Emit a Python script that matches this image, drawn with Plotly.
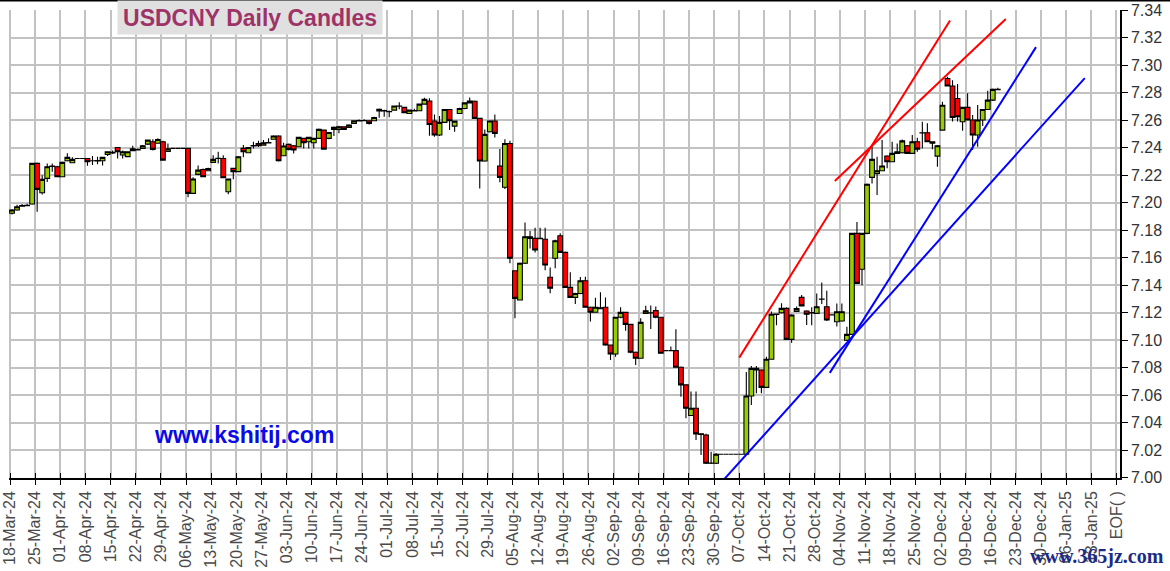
import plotly.graph_objects as go

# ---------------- data (trading-day index 0 = 18-Mar-24) ----------------
opens = [7.1923, 7.1947, 7.1975, 7.1979, 7.1991, 7.2286, 7.2073, 7.2177, 7.2264, 7.2262,
         7.2189, 7.2305, 7.2291, 7.2322, 7.2322, 7.2322, 7.2305, 7.2303, 7.2305, 7.2351,
         7.2362, 7.2402, 7.2347, 7.2335, 7.2378, 7.2383, 7.2395, 7.2426, 7.2443, 7.2432,
         7.2443, 7.2373, 7.2395, 7.2395, 7.2395, 7.2395, 7.2068, 7.2206, 7.2242, 7.2232,
         7.2293, 7.2321, 7.2322, 7.2080, 7.2250, 7.2226, 7.2395, 7.2363, 7.2413, 7.2431,
         7.2419, 7.2435, 7.2461, 7.2485, 7.2342, 7.2424, 7.2414, 7.2407, 7.2468, 7.2443,
         7.2436, 7.2468, 7.2528, 7.2468, 7.2533, 7.2533, 7.2552, 7.2548, 7.2577, 7.2595,
         7.2596, 7.2596, 7.2596, 7.2667, 7.2668, 7.2663, 7.2673, 7.2702, 7.2693, 7.2649,
         7.2668, 7.2669, 7.2717, 7.2739, 7.2594, 7.2492, 7.2584, 7.2678, 7.2557, 7.2649,
         7.2685, 7.2726, 7.2738, 7.2613, 7.2303, 7.2516, 7.2594, 7.2266, 7.2112, 7.2431,
         7.1506, 7.1293, 7.1560, 7.1753, 7.1741, 7.1738, 7.1734, 7.1458, 7.1596, 7.1760,
         7.1639, 7.1385, 7.1312, 7.1340, 7.1433, 7.1240, 7.1204, 7.1236, 7.1240, 7.0966,
         7.0900, 7.1167, 7.1203, 7.1116, 7.0913, 7.0869, 7.1196, 7.1198, 7.1216, 7.1167,
         7.0925, 7.0925, 7.0925, 7.0804, 7.0676, 7.0453, 7.0506, 7.0320, 7.0312, 7.0106,
         7.0106, 7.0172, 7.0172, 7.0172, 7.0172, 7.0172, 7.0172, 7.0595, 7.0796, 7.0784,
         7.0658, 7.0862, 7.1190, 7.1200, 7.1232, 7.1007, 7.1210, 7.1312, 7.1213, 7.1198,
         7.1196, 7.1300, 7.1244, 7.1184, 7.1135, 7.1140, 7.1000, 7.1043, 7.1777, 7.1516,
         7.1777, 7.2184, 7.2213, 7.2233, 7.2340, 7.2298, 7.2359, 7.2363, 7.2414, 7.2359,
         7.2443, 7.2507, 7.2509, 7.2443, 7.2339, 7.2528, 7.2903, 7.2848, 7.2758, 7.2589,
         7.2693, 7.2601, 7.2492, 7.2601, 7.2678, 7.2746, 7.2822]
highs = [7.1955, 7.1985, 7.1990, 7.1992, 7.2290, 7.2292, 7.2200, 7.2286, 7.2285, 7.2268,
         7.2300, 7.2359, 7.2330, 7.2325, 7.2325, 7.2326, 7.2340, 7.2335, 7.2335, 7.2375,
         7.2380, 7.2405, 7.2380, 7.2375, 7.2415, 7.2395, 7.2420, 7.2460, 7.2462, 7.2468,
         7.2450, 7.2430, 7.2397, 7.2397, 7.2397, 7.2398, 7.2185, 7.2270, 7.2248, 7.2255,
         7.2345, 7.2370, 7.2345, 7.2175, 7.2255, 7.2340, 7.2420, 7.2405, 7.2443, 7.2450,
         7.2456, 7.2468, 7.2490, 7.2490, 7.2436, 7.2430, 7.2420, 7.2480, 7.2472, 7.2480,
         7.2472, 7.2540, 7.2532, 7.2515, 7.2555, 7.2560, 7.2556, 7.2570, 7.2600, 7.2605,
         7.2606, 7.2600, 7.2625, 7.2685, 7.2675, 7.2670, 7.2706, 7.2730, 7.2697, 7.2676,
         7.2684, 7.2720, 7.2764, 7.2760, 7.2641, 7.2630, 7.2680, 7.2682, 7.2597, 7.2690,
         7.2730, 7.2765, 7.2744, 7.2618, 7.2533, 7.2600, 7.2642, 7.2390, 7.2462, 7.2450,
         7.1510, 7.1565, 7.1857, 7.1795, 7.1818, 7.1818, 7.1818, 7.1530, 7.1730, 7.1778,
         7.1645, 7.1494, 7.1345, 7.1460, 7.1462, 7.1245, 7.1310, 7.1350, 7.1312, 7.0970,
         7.1170, 7.1240, 7.1208, 7.1120, 7.0918, 7.1160, 7.1252, 7.1253, 7.1245, 7.1172,
         7.0930, 7.0955, 7.1080, 7.0810, 7.0680, 7.0627, 7.0627, 7.0325, 7.0320, 7.0190,
         7.0180, 7.0174, 7.0174, 7.0174, 7.0174, 7.0174, 7.0770, 7.0813, 7.0813, 7.0790,
         7.0880, 7.1210, 7.1195, 7.1270, 7.1240, 7.1190, 7.1245, 7.1330, 7.1218, 7.1240,
         7.1341, 7.1421, 7.1360, 7.1190, 7.1268, 7.1268, 7.1099, 7.1780, 7.1860, 7.1780,
         7.2140, 7.2407, 7.2335, 7.2456, 7.2345, 7.2443, 7.2431, 7.2460, 7.2420, 7.2492,
         7.2472, 7.2589, 7.2577, 7.2446, 7.2419, 7.2734, 7.2916, 7.2890, 7.2863, 7.2697,
         7.2795, 7.2637, 7.2710, 7.2680, 7.2814, 7.2831, 7.2836]
lows = [7.1915, 7.1942, 7.1972, 7.1975, 7.1985, 7.1935, 7.2060, 7.2150, 7.2225, 7.2185,
        7.2185, 7.2300, 7.2288, 7.2320, 7.2320, 7.2269, 7.2275, 7.2280, 7.2270, 7.2340,
        7.2355, 7.2322, 7.2322, 7.2330, 7.2375, 7.2380, 7.2390, 7.2420, 7.2380, 7.2428,
        7.2305, 7.2368, 7.2393, 7.2393, 7.2393, 7.2040, 7.2065, 7.2200, 7.2185, 7.2228,
        7.2290, 7.2285, 7.2180, 7.2062, 7.2170, 7.2222, 7.2330, 7.2360, 7.2395, 7.2405,
        7.2416, 7.2432, 7.2458, 7.2300, 7.2338, 7.2380, 7.2358, 7.2404, 7.2395, 7.2395,
        7.2395, 7.2465, 7.2385, 7.2462, 7.2485, 7.2505, 7.2530, 7.2545, 7.2575, 7.2592,
        7.2593, 7.2568, 7.2592, 7.2618, 7.2625, 7.2622, 7.2670, 7.2680, 7.2650, 7.2645,
        7.2665, 7.2665, 7.2712, 7.2487, 7.2479, 7.2485, 7.2580, 7.2528, 7.2516, 7.2645,
        7.2680, 7.2722, 7.2608, 7.2104, 7.2298, 7.2510, 7.2475, 7.2148, 7.2100, 7.1560,
        7.1160, 7.1290, 7.1555, 7.1668, 7.1638, 7.1735, 7.1510, 7.1342, 7.1523, 7.1635,
        7.1380, 7.1310, 7.1264, 7.1335, 7.1236, 7.1136, 7.1200, 7.1225, 7.0960, 7.0857,
        7.0880, 7.1160, 7.1070, 7.0905, 7.0821, 7.0865, 7.1192, 7.1083, 7.1160, 7.0902,
        7.0920, 7.0920, 7.0800, 7.0590, 7.0434, 7.0450, 7.0276, 7.0167, 7.0100, 7.0100,
        7.0100, 7.0170, 7.0170, 7.0170, 7.0170, 7.0170, 7.0170, 7.0530, 7.0615, 7.0615,
        7.0655, 7.0858, 7.1110, 7.1195, 7.1005, 7.0983, 7.1205, 7.1245, 7.1111, 7.1110,
        7.1192, 7.1264, 7.1140, 7.1180, 7.1100, 7.1135, 7.0995, 7.1040, 7.1410, 7.1400,
        7.1770, 7.2140, 7.2056, 7.2228, 7.2250, 7.2295, 7.2355, 7.2358, 7.2355, 7.2355,
        7.2370, 7.2395, 7.2440, 7.2388, 7.2262, 7.2525, 7.2845, 7.2590, 7.2590, 7.2523,
        7.2600, 7.2383, 7.2407, 7.2557, 7.2675, 7.2740, 7.2820]
closes = [7.1947, 7.1971, 7.1979, 7.1981, 7.2286, 7.2097, 7.2170, 7.2262, 7.2267, 7.2189,
          7.2293, 7.2330, 7.2315, 7.2322, 7.2322, 7.2298, 7.2305, 7.2306, 7.2330, 7.2371,
          7.2366, 7.2371, 7.2371, 7.2371, 7.2392, 7.2387, 7.2414, 7.2455, 7.2388, 7.2460,
          7.2310, 7.2392, 7.2395, 7.2395, 7.2395, 7.2068, 7.2172, 7.2237, 7.2189, 7.2249,
          7.2315, 7.2323, 7.2182, 7.2172, 7.2226, 7.2334, 7.2371, 7.2402, 7.2415, 7.2414,
          7.2436, 7.2437, 7.2485, 7.2305, 7.2412, 7.2388, 7.2383, 7.2475, 7.2436, 7.2475,
          7.2468, 7.2533, 7.2390, 7.2511, 7.2548, 7.2552, 7.2533, 7.2565, 7.2596, 7.2597,
          7.2597, 7.2577, 7.2620, 7.2679, 7.2670, 7.2662, 7.2703, 7.2703, 7.2654, 7.2673,
          7.2670, 7.2717, 7.2751, 7.2569, 7.2492, 7.2584, 7.2678, 7.2596, 7.2593, 7.2685,
          7.2726, 7.2740, 7.2613, 7.2303, 7.2497, 7.2594, 7.2504, 7.2184, 7.2431, 7.1596,
          7.1305, 7.1560, 7.1753, 7.1741, 7.1656, 7.1742, 7.1547, 7.1378, 7.1724, 7.1639,
          7.1385, 7.1312, 7.1340, 7.1433, 7.1240, 7.1204, 7.1240, 7.1230, 7.0966, 7.0900,
          7.1167, 7.1203, 7.1116, 7.0913, 7.0869, 7.1130, 7.1214, 7.1200, 7.1167, 7.0906,
          7.0925, 7.0925, 7.0804, 7.0676, 7.0506, 7.0506, 7.0320, 7.0315, 7.0106, 7.0108,
          7.0172, 7.0172, 7.0172, 7.0172, 7.0172, 7.0172, 7.0595, 7.0796, 7.0784, 7.0658,
          7.0862, 7.1189, 7.1188, 7.1232, 7.1007, 7.1184, 7.1230, 7.1250, 7.1189, 7.1201,
          7.1244, 7.1298, 7.1147, 7.1186, 7.1208, 7.1208, 7.1043, 7.1777, 7.1414, 7.1777,
          7.2134, 7.2315, 7.2233, 7.2267, 7.2298, 7.2359, 7.2371, 7.2450, 7.2359, 7.2443,
          7.2390, 7.2509, 7.2443, 7.2432, 7.2414, 7.2709, 7.2848, 7.2620, 7.2625, 7.2693,
          7.2601, 7.2492, 7.2601, 7.2678, 7.2746, 7.2824, 7.2825]
days = list(range(len(closes)))

week_labels = ["18-Mar-24", "25-Mar-24", "01-Apr-24", "08-Apr-24", "15-Apr-24", "22-Apr-24",
               "29-Apr-24", "06-May-24", "13-May-24", "20-May-24", "27-May-24", "03-Jun-24",
               "10-Jun-24", "17-Jun-24", "24-Jun-24", "01-Jul-24", "08-Jul-24", "15-Jul-24",
               "22-Jul-24", "29-Jul-24", "05-Aug-24", "12-Aug-24", "19-Aug-24", "26-Aug-24",
               "02-Sep-24", "09-Sep-24", "16-Sep-24", "23-Sep-24", "30-Sep-24", "07-Oct-24",
               "14-Oct-24", "21-Oct-24", "28-Oct-24", "04-Nov-24", "11-Nov-24", "18-Nov-24",
               "25-Nov-24", "02-Dec-24", "09-Dec-24", "16-Dec-24", "23-Dec-24", "30-Dec-24",
               "06-Jan-25", "13-Jan-25", "EOF( )"]
price_ticks = [7.00, 7.02, 7.04, 7.06, 7.08, 7.10, 7.12, 7.14, 7.16, 7.18,
               7.20, 7.22, 7.24, 7.26, 7.28, 7.30, 7.32, 7.34]

# hand-drawn trend lines: [start, end] in (trading-day index, price)
red_line_a_x = [144.6, 186.5]
red_line_a_y = [7.0874, 7.3325]
red_line_b_x = [163.6, 197.6]
red_line_b_y = [7.2158, 7.3335]
blue_line_a_x = [141.6, 213.3]
blue_line_a_y = [6.9990, 7.2906]
blue_line_b_x = [162.6, 203.6]
blue_line_b_y = [7.0763, 7.3131]

# ---------------- figure ----------------
tick_pos = [5 * k - 0.4 for k in range(len(week_labels))]
font_family = "Arial, Liberation Sans, sans-serif"

fig = go.Figure()
fig.add_trace(go.Candlestick(
    x=days, open=opens, high=highs, low=lows, close=closes,
    increasing=dict(fillcolor="#99cc00", line=dict(color="black", width=1.1)),
    decreasing=dict(fillcolor="#ff0000", line=dict(color="black", width=1.1)),
    whiskerwidth=0, showlegend=False, hoverinfo="skip"))

for lx, ly, col in [(red_line_a_x, red_line_a_y, "#ff0000"), (red_line_b_x, red_line_b_y, "#ff0000"),
                    (blue_line_a_x, blue_line_a_y, "#0000ff"), (blue_line_b_x, blue_line_b_y, "#0000ff")]:
    fig.add_trace(go.Scatter(x=lx, y=ly, mode="lines", line=dict(color=col, width=2),
                             showlegend=False, hoverinfo="skip", cliponaxis=False))

fig.update_layout(
    width=1170, height=571,
    margin=dict(l=9, r=50, t=10, b=93, autoexpand=False),
    paper_bgcolor="white", plot_bgcolor="white",
    showlegend=False, boxgap=0.06, boxgroupgap=0,
    xaxis=dict(range=[-0.6, 220.3], tickvals=tick_pos, ticktext=week_labels, tickangle=-90,
               showgrid=True, gridcolor="#c2c2c2", gridwidth=1.6, zeroline=False,
               ticks="outside", ticklen=5, tickcolor="black", tickwidth=1,
               showline=True, linecolor="black", linewidth=1.5, automargin=False,
               tickfont=dict(family=font_family, size=16, color="#4a4a4a"),
               rangeslider=dict(visible=False), fixedrange=True),
    xaxis2=dict(range=[-0.6, 220.3], tickvals=tick_pos, overlaying="x", anchor="y",
                side="bottom", showticklabels=False, showgrid=False, zeroline=False,
                ticks="inside", ticklen=5, tickcolor="black", tickwidth=1, automargin=False),
    yaxis=dict(range=[6.9999, 7.3401], side="right", tickvals=price_ticks, tickformat=".2f",
               showgrid=True, gridcolor="#c2c2c2", gridwidth=1.6, zeroline=False,
               ticks="outside", ticklen=6, tickcolor="black", tickwidth=1,
               showline=True, linecolor="black", linewidth=1.5, automargin=False,
               tickfont=dict(family=font_family, size=16, color="#333333"), fixedrange=True),
)
fig.add_trace(go.Scatter(x=[None], y=[None], xaxis="x2", yaxis="y", showlegend=False))

# title box
fig.add_annotation(xref="paper", yref="paper", x=(117 - 9) / 1111, y=1 + 10 / 468,
                   xanchor="left", yanchor="top", showarrow=False,
                   text="<b>USDCNY Daily Candles</b>", bgcolor="#e0e0e0",
                   width=258, height=27, borderpad=3,
                   font=dict(family=font_family, size=23, color="#9e3368"))
# site watermark
fig.add_annotation(xref="paper", yref="paper", x=(244 - 9) / 1111, y=(478 - 435) / 468,
                   xanchor="center", yanchor="middle", showarrow=False,
                   text="<b>www.kshitij.com</b>",
                   font=dict(family=font_family, size=23, color="#0a0ae6"))
fig.add_annotation(xref="paper", yref="paper", x=(1166 - 9) / 1111, y=-(556 - 478) / 468,
                   xanchor="right", yanchor="middle", showarrow=False,
                   text="<b>www.365jz.com</b>",
                   font=dict(family="Liberation Serif, serif", size=20, color="#1c2b86"))
# top frame line
fig.add_shape(type="line", xref="paper", yref="paper", x0=-9 / 1111, x1=1161 / 1111,
              y0=1 + 9.5 / 468, y1=1 + 9.5 / 468, line=dict(color="black", width=2))

fig.write_html("out.html", config={"displayModeBar": False},
               post_script="document.body.style.margin='0';document.body.style.overflow='hidden';")
